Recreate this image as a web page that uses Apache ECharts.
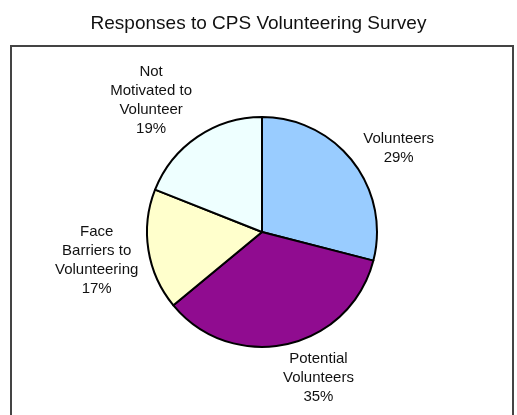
<!DOCTYPE html>
<html>
<head>
<meta charset="utf-8">
<script src="https://cdn.jsdelivr.net/npm/echarts@6/dist/echarts.min.js"></script>
<style>
  html, body { margin: 0; padding: 0; background: #fff; }
  #main { width: 517px; height: 415px; }
</style>
</head>
<body>
<div id="main"></div>
<script>
// survey categories, clockwise from 12 o'clock
const categories = ['Volunteers', 'Potential\nVolunteers', 'Face\nBarriers to\nVolunteering', 'Not\nMotivated to\nVolunteer'];
const shares = [29, 35, 17, 19];
const sliceColors = ['#99ccff', '#900c90', '#ffffcc', '#eeffff'];
// nudges so the labels sit where Excel put them
const labelNudge = [[25, -1], [22, 14], [-27, 7], [-30, -20]];

const myChart = echarts.init(document.getElementById('main'));

const option = {
    animation: false,
    title: {
        text: 'Responses to CPS Volunteering Survey',
        left: 'center',
        top: 9,
        textStyle: {
            fontFamily: 'Liberation Sans, Arial',
            fontSize: 19,
            fontWeight: 'normal',
            color: '#111'
        }
    },
    graphic: [{ // chart area frame
        type: 'rect',
        shape: { x: 11, y: 46, width: 502, height: 400 },
        style: { fill: 'none', stroke: '#444', lineWidth: 2 },
        silent: true
    }],
    series: [{
        type: 'pie',
        center: [262, 232],
        radius: 115,
        startAngle: 90,
        clockwise: true,
        itemStyle: {
            borderColor: '#000',
            borderWidth: 2
        },
        label: {
            show: true,
            position: 'outside',
            formatter: '{b}\n{c}%',
            fontFamily: 'Liberation Sans, Arial',
            fontSize: 15,
            lineHeight: 19,
            color: '#111'
        },
        labelLine: { show: false, length: 20, length2: 0 },
        labelLayout: function (params) {
            const n = labelNudge[params.dataIndex];
            return { align: 'center', dx: n[0], dy: n[1] };
        },
        emphasis: { disabled: true },
        data: categories.map((name, i) => ({
            name: name,
            value: shares[i],
            itemStyle: { color: sliceColors[i] }
        }))
    }]
};

myChart.setOption(option);
</script>
</body>
</html>
